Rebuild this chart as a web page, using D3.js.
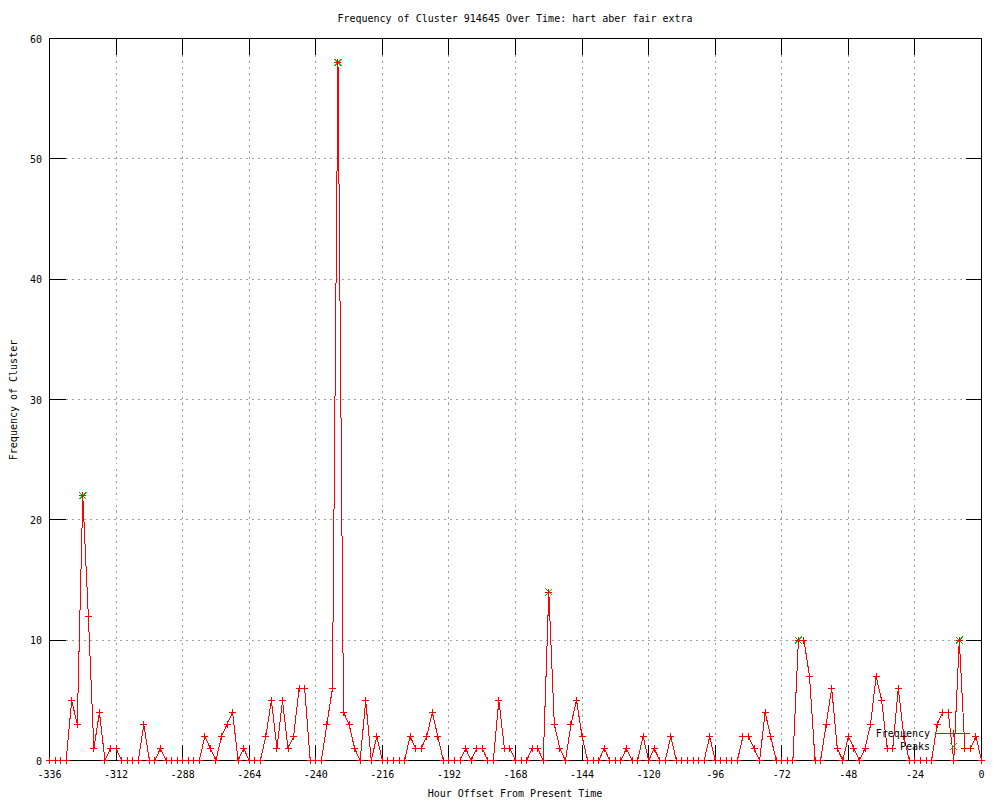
<!DOCTYPE html>
<html>
<head>
<meta charset="utf-8">
<script src="https://cdn.jsdelivr.net/npm/d3@7"></script>
<style>
  body { margin: 0; background: #fff; }
  text { font-family: "DejaVu Sans Mono", monospace; font-size: 10px; fill: #000; }
</style>
</head>
<body>
<div id="chart"></div>
<script>
// DATA
// one value every 2 hours, from -336 to 0
var hourStart = -336;
var hourStep = 2;
var frequency = [
  0, 0, 0, 0, 5, 3, 22, 12, 1, 4, 0, 1, 1, 0, 0, 0, 0, 3, 0, 0,
  1, 0, 0, 0, 0, 0, 0, 0, 2, 1, 0, 2, 3, 4, 0, 1, 0, 0, 0, 2,
  5, 1, 5, 1, 2, 6, 6, 0, 0, 0, 3, 6, 58, 4, 3, 1, 0, 5, 0, 2,
  0, 0, 0, 0, 0, 2, 1, 1, 2, 4, 2, 0, 0, 0, 0, 1, 0, 1, 1, 0,
  0, 5, 1, 1, 0, 0, 0, 1, 1, 0, 14, 3, 1, 0, 3, 5, 2, 0, 0, 0,
  1, 0, 0, 0, 1, 0, 0, 2, 0, 1, 0, 0, 2, 0, 0, 0, 0, 0, 0, 2,
  0, 0, 0, 0, 0, 2, 2, 1, 0, 4, 2, 0, 0, 0, 0, 10, 10, 7, 0, 0,
  3, 6, 1, 0, 2, 1, 0, 1, 3, 7, 5, 1, 1, 6, 2, 0, 0, 0, 0, 0,
  3, 4, 4, 0, 10, 1, 1, 2, 0
];
var peakHours = [-324, -232, -156, -66, -8];
var peakValues = [22, 58, 14, 10, 10];
var xTicks = [-336, -312, -288, -264, -240, -216, -192, -168, -144, -120, -96, -72, -48, -24, 0];
var yTicks = [0, 10, 20, 30, 40, 50, 60];
var legendLabels = ["Frequency", "Peaks"];

var titleText = "Frequency of Cluster 914645 Over Time: hart aber fair extra";
var xLabel = "Hour Offset From Present Time";
var yLabel = "Frequency of Cluster";

// CHART SETUP
var width = 1000, height = 800;
var lineColor = "#ff0000";
var peakColor = "#00c000";
var gridColor = "#a0a0a0";
var tickLen = 16;

var freqData = frequency.map((v, i) => ({ hour: hourStart + i * hourStep, value: v }));
var peakData = peakHours.map((h, i) => ({ hour: h, value: peakValues[i] }));

var svg = d3
  .select("#chart")
  .append("svg")
  .attr("width", width)
  .attr("height", height)
  .attr("shape-rendering", "crispEdges");

// SCALES
var xScale = d3.scaleLinear().domain([-336, 0]).range([49.5, 981.5]);
var yScale = d3.scaleLinear().domain([0, 60]).range([760.5, 38.5]);

var x0 = xScale.range()[0], x1 = xScale.range()[1];
var y0 = yScale.range()[0], y1 = yScale.range()[1];

function px(v) {
  return Math.round(v - 0.5) + 0.5;
}

// GRID
var gridPath = "";
xTicks.filter((t) => t > -336 && t < 0).forEach(function (t) {
  gridPath += "M" + px(xScale(t)) + "," + (y1 + tickLen) + "V" + (y0 - tickLen);
});
yTicks.filter((t) => t > 0 && t < 60).forEach(function (t) {
  gridPath += "M" + (x0 + tickLen) + "," + px(yScale(t)) + "H" + (x1 - tickLen);
});
svg
  .append("path")
  .attr("d", gridPath)
  .attr("fill", "none")
  .attr("stroke", gridColor)
  .attr("stroke-dasharray", "2,4");

// TICKS (gnuplot style: inside, mirrored)
var tickPath = "";
xTicks.forEach(function (t) {
  var x = px(xScale(t));
  tickPath += "M" + x + "," + y0 + "V" + (y0 - tickLen);
  tickPath += "M" + x + "," + y1 + "V" + (y1 + tickLen);
});
yTicks.forEach(function (t) {
  var y = px(yScale(t));
  tickPath += "M" + x0 + "," + y + "H" + (x0 + tickLen);
  tickPath += "M" + x1 + "," + y + "H" + (x1 - tickLen);
});
svg
  .append("path")
  .attr("class", "ticks")
  .attr("d", tickPath)
  .attr("fill", "none")
  .attr("stroke", "#000")
  .attr("stroke-width", 1);

// TICK LABELS
svg
  .selectAll(".xlab")
  .data(xTicks)
  .enter()
  .append("text")
  .attr("class", "xlab")
  .attr("x", (d) => xScale(d))
  .attr("y", y0 + 17)
  .attr("text-anchor", "middle")
  .text((d) => d);
svg
  .selectAll(".ylab")
  .data(yTicks)
  .enter()
  .append("text")
  .attr("class", "ylab")
  .attr("x", 42)
  .attr("y", (d) => yScale(d) + 4)
  .attr("text-anchor", "end")
  .text((d) => d);

// BORDER
svg
  .append("rect")
  .attr("x", x0)
  .attr("y", y1)
  .attr("width", x1 - x0)
  .attr("height", y0 - y1)
  .attr("fill", "none")
  .attr("stroke", "#000");

// LABELS
svg.append("text").attr("x", 515).attr("y", 22).attr("text-anchor", "middle").text(titleText);
svg.append("text").attr("x", 515).attr("y", 797).attr("text-anchor", "middle").text(xLabel);
svg
  .append("text")
  .attr("transform", "translate(17,400) rotate(-90)")
  .attr("text-anchor", "middle")
  .text(yLabel);

// MARKERS
function plusPath(x, y, r) {
  return "M" + (x - r) + "," + y + "H" + (x + r) + "M" + x + "," + (y - r) + "V" + (y + r);
}
function crossPath(x, y, r) {
  return "M" + (x - r) + "," + (y - r) + "L" + (x + r) + "," + (y + r) +
    "M" + (x - r) + "," + (y + r) + "L" + (x + r) + "," + (y - r);
}

// PEAKS
svg
  .selectAll(".peak")
  .data(peakData)
  .enter()
  .append("path")
  .attr("class", "peak")
  .attr("d", (d) => crossPath(xScale(d.hour), yScale(d.value), 3.5))
  .attr("stroke", peakColor)
  .attr("fill", "none");

// FREQUENCY LINE
var line = d3
  .line()
  .x((d) => xScale(d.hour))
  .y((d) => yScale(d.value));

svg
  .append("path")
  .datum(freqData)
  .attr("d", line)
  .attr("fill", "none")
  .attr("stroke", lineColor)
  .attr("stroke-width", 1);

svg
  .selectAll(".freq")
  .data(freqData)
  .enter()
  .append("path")
  .attr("class", "freq")
  .attr("d", (d) => plusPath(xScale(d.hour), yScale(d.value), 3.5))
  .attr("stroke", lineColor)
  .attr("fill", "none");

// LEGEND
var legend = svg.append("g");
legend
  .selectAll("text")
  .data(legendLabels)
  .enter()
  .append("text")
  .attr("x", 930)
  .attr("y", (d, i) => 737 + i * 13)
  .attr("text-anchor", "end")
  .text((d) => d);
legend
  .append("path")
  .attr("d", "M936,733.5H970")
  .attr("stroke", lineColor);
legend
  .append("path")
  .attr("d", plusPath(953, 733.5, 3.5))
  .attr("stroke", lineColor)
  .attr("fill", "none");
legend
  .append("path")
  .attr("d", crossPath(953.5, 746.5, 3.5))
  .attr("stroke", peakColor)
  .attr("fill", "none");
</script>
</body>
</html>
